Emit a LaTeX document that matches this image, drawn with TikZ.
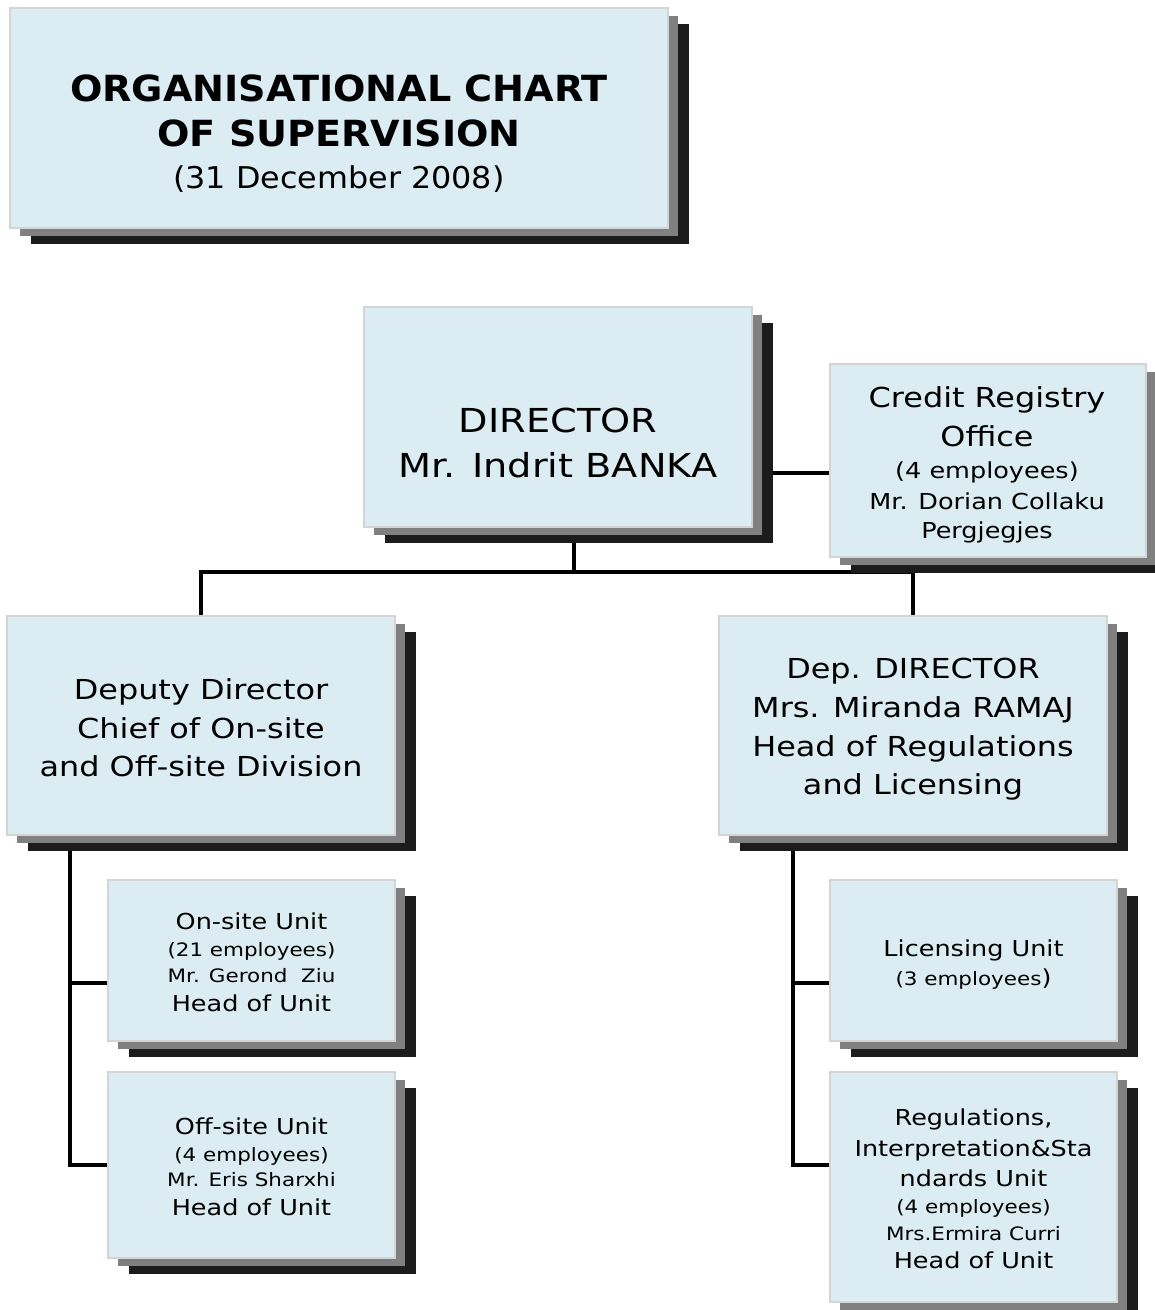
\documentclass[tikz,border=0pt]{standalone}
\usepackage{fontspec}
\setmainfont[FakeStretch=1.16]{DejaVu Sans}
\newfontfamily\ttlfont[FakeStretch=1.06]{DejaVu Sans}
\usetikzlibrary{shadows,backgrounds}
\definecolor{boxfill}{RGB}{219,237,243}
\definecolor{boxborder}{RGB}{212,212,212}
\definecolor{shgray}{RGB}{128,128,128}
\definecolor{shdark}{RGB}{28,28,28}
\newcommand\setfs[1]{\fontsize{#1}{#1}\selectfont}
\tikzset{
  orgbox/.style={draw=boxborder, line width=1.3pt, fill=boxfill, inner sep=0pt, outer sep=0pt,
    general shadow={fill=shdark, shadow xshift=20.5pt, shadow yshift=-16pt},
    general shadow={fill=shgray, shadow xshift=10pt, shadow yshift=-8pt}},
  txt/.style={anchor=base, inner sep=0pt, outer sep=0pt, text=black},
  conn/.style={line width=3.8pt, draw=black}
}
\begin{document}
\begin{tikzpicture}[x=1pt,y=-1pt]
\useasboundingbox (0,0) rectangle (1155,1310);

% boxes
\node[orgbox, minimum width=658pt, minimum height=220pt] (title) at (339,118) {};
\node[orgbox, minimum width=388pt, minimum height=220pt] (dir) at (558,417) {};
\node[orgbox, minimum width=316pt, minimum height=193pt] (cred) at (988,460.5) {};
\node[orgbox, minimum width=388pt, minimum height=219pt] (depL) at (201,725.5) {};
\node[orgbox, minimum width=388pt, minimum height=219pt] (depR) at (913,725.5) {};
\node[orgbox, minimum width=287pt, minimum height=161pt] (onsite) at (251.5,960.5) {};
\node[orgbox, minimum width=287pt, minimum height=186pt] (offsite) at (251.5,1165) {};
\node[orgbox, minimum width=287pt, minimum height=161pt] (lic) at (973.5,960.5) {};
\node[orgbox, minimum width=287pt, minimum height=230pt] (reg) at (973.5,1187) {};

% connectors
\coordinate (bus) at (574,572);
\coordinate (lsp) at (70,835);
\coordinate (onj) at (70,983);
\coordinate (rsp) at (793,835);
\coordinate (licj) at (793,983);
\begin{scope}[on background layer]
\fill[white] (0,0) rectangle (1155,1310);
\draw[conn] ([yshift=-12.5pt]cred.west) -- ([yshift=-12.5pt]cred.west -| dir.east);
\draw[conn] ([xshift=16pt]dir.south) -- (bus);
\draw[conn] (depL.north) |- (bus) -| (depR.north);
\draw[conn] (lsp) |- (offsite.west);
\draw[conn] (onj) -- (onj -| onsite.west);
\draw[conn] (rsp) |- ([yshift=22pt]reg.west);
\draw[conn] (licj) -- (licj -| lic.west);
\end{scope}

% title text
\node[txt, font=\ttlfont\bfseries\setfs{36}] (t1) at (339,101) {ORGANISATIONAL CHART};
\node[txt, font=\ttlfont\bfseries\setfs{36}] (t2) at (339,146) {OF SUPERVISION};
\node[txt, font=\ttlfont\setfs{30}] (t3) at (339,188) {(31 December 2008)};

% director
\node[txt, font=\setfs{33}] (d1) at (558,432) {DIRECTOR};
\node[txt, font=\setfs{33}] (d2) at (558,477) {Mr. Indrit BANKA};

% credit registry
\node[txt, font=\setfs{27.5}] (c1) at (987,407) {Credit Registry};
\node[txt, font=\setfs{27.5}] (c2) at (987,446) {Office};
\node[txt, font=\setfs{22}] (c3) at (987,478) {(4 employees)};
\node[txt, font=\setfs{22}] (c4) at (987,509) {Mr. Dorian Collaku};
\node[txt, font=\setfs{22}] (c5) at (987,538) {Pergjegjes};

% deputy left
\node[txt, font=\setfs{27.5}] (l1) at (201,699) {Deputy Director};
\node[txt, font=\setfs{27.5}] (l2) at (201,738) {Chief of On-site};
\node[txt, font=\setfs{27.5}] (l3) at (201,776) {and Off-site Division};

% deputy right
\node[txt, font=\setfs{27.5}] (r1) at (913,678) {Dep. DIRECTOR};
\node[txt, font=\setfs{27.5}] (r2) at (913,717) {Mrs. Miranda RAMAJ};
\node[txt, font=\setfs{27.5}] (r3) at (913,756) {Head of Regulations};
\node[txt, font=\setfs{27.5}] (r4) at (913,794) {and Licensing};

% on-site
\node[txt, font=\setfs{22}] (o1) at (251.5,929) {On-site Unit};
\node[txt, font=\setfs{18.5}] (o2) at (251.5,956) {(21 employees)};
\node[txt, font=\setfs{18.5}] (o3) at (251.5,982) {Mr. Gerond~~Ziu};
\node[txt, font=\setfs{22}] (o4) at (251.5,1011) {Head of Unit};

% off-site
\node[txt, font=\setfs{22}] (f1) at (251.5,1134) {Off-site Unit};
\node[txt, font=\setfs{18.5}] (f2) at (251.5,1161) {(4 employees)};
\node[txt, font=\setfs{18.5}] (f3) at (251.5,1186) {Mr. Eris Sharxhi};
\node[txt, font=\setfs{22}] (f4) at (251.5,1215) {Head of Unit};

% licensing
\node[txt, font=\setfs{22}] (li1) at (973.5,956) {Licensing Unit};
\node[txt, font=\setfs{18.5}] (li2) at (973.5,985) {(3 employees{\setfs{22})}};

% regulations
\node[txt, font=\setfs{22}] (g1) at (973.5,1125) {Regulations,};
\node[txt, font=\setfs{22}] (g2) at (973.5,1156) {Interpretation\&Sta};
\node[txt, font=\setfs{22}] (g3) at (973.5,1186) {ndards Unit};
\node[txt, font=\setfs{18.5}] (g4) at (973.5,1213) {(4 employees)};
\node[txt, font=\setfs{18.5}] (g5) at (973.5,1240) {Mrs.Ermira Curri};
\node[txt, font=\setfs{22}] (g6) at (973.5,1268) {Head of Unit};
\end{tikzpicture}
\end{document}
